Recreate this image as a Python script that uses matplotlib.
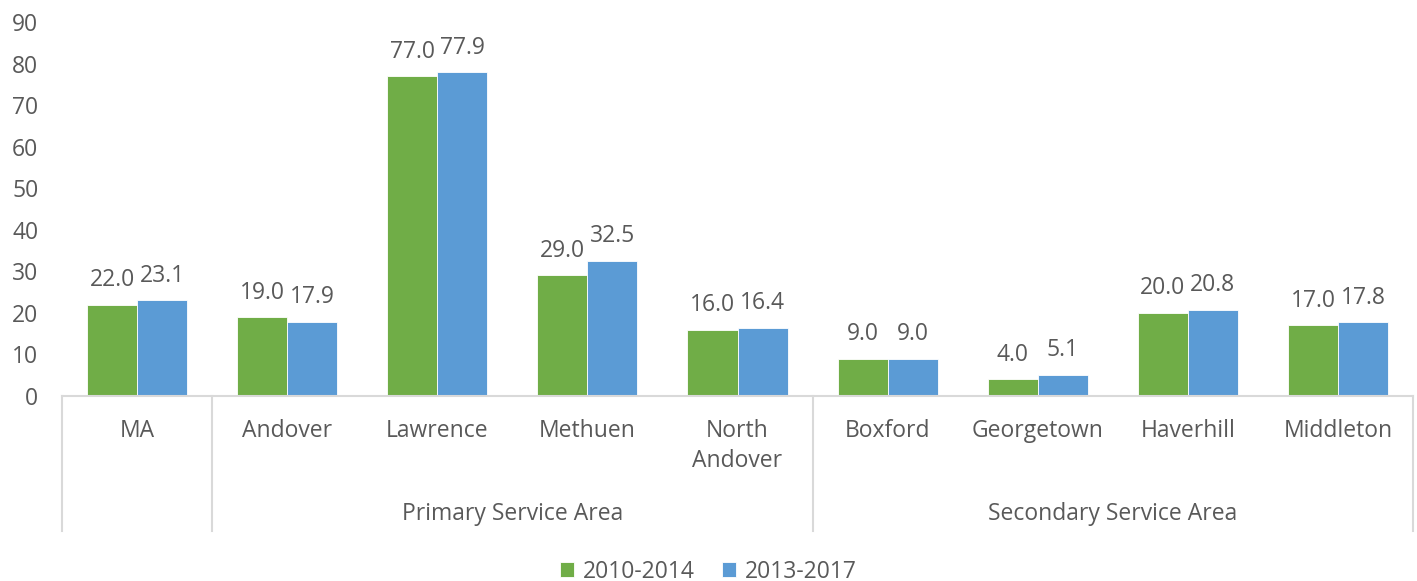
import matplotlib.pyplot as plt
import numpy as np

# chart data
places = ['MA', 'Andover', 'Lawrence', 'Methuen', 'North\nAndover',
          'Boxford', 'Georgetown', 'Haverhill', 'Middleton']
rate_2010_2014 = [22.0, 19.0, 77.0, 29.0, 16.0, 9.0, 4.0, 20.0, 17.0]
rate_2013_2017 = [23.1, 17.9, 77.9, 32.5, 16.4, 9.0, 5.1, 20.8, 17.8]
groups = ['Primary Service Area', 'Secondary Service Area']
group_spans = [(1, 4), (5, 8)]
series_names = ['2010-2014', '2013-2017']

plt.rcParams['font.family'] = ['Open Sans', 'DejaVu Sans']
txt_color = '#595959'
line_color = '#D9D9D9'
green = '#70AD47'
blue = '#5B9BD5'
fs = 16.5

fig = plt.figure(figsize=(14.17, 5.81), dpi=100)
ax = fig.add_axes([62 / 1417, 185 / 581, 1351 / 1417, 374 / 581])

x = np.arange(len(places))
w = 1 / 3
b1 = ax.bar(x - w / 2, rate_2010_2014, w, color=green, edgecolor='white',
            linewidth=0.6, label=series_names[0])
b2 = ax.bar(x + w / 2, rate_2013_2017, w, color=blue, edgecolor='white',
            linewidth=0.6, label=series_names[1])

for bars, vals in [(b1, rate_2010_2014), (b2, rate_2013_2017)]:
    for bar, v in zip(bars, vals):
        ax.annotate(f'{v:.1f}', (bar.get_x() + bar.get_width() / 2, v),
                    xytext=(0, 9), textcoords='offset points',
                    ha='center', va='bottom', fontsize=fs, color=txt_color)

ax.set_xlim(-0.5, len(places) - 0.5)
ax.set_ylim(0, 90)
ax.set_yticks(range(0, 91, 10))
ax.tick_params(axis='y', length=0, labelsize=fs, labelcolor=txt_color, pad=17)
ax.set_xticks([])
for s in ['top', 'right', 'left']:
    ax.spines[s].set_visible(False)
ax.spines['bottom'].set_color(line_color)
ax.spines['bottom'].set_linewidth(1.5)

# category labels and separators below axis
tr = ax.get_xaxis_transform()
for xi, name in zip(x, places):
    ax.text(xi, -0.062, name, transform=tr, ha='center', va='top',
            fontsize=fs, color=txt_color, linespacing=1.3)
for sep in [-0.5, 0.5, 4.5, 8.5]:
    ax.plot([sep, sep], [0, -0.36], transform=tr, color=line_color,
            lw=1.5, clip_on=False)
for g, (a, b) in zip(groups, group_spans):
    ax.text((a + b) / 2, -0.316, g, transform=tr, ha='center', va='center',
            fontsize=fs, color=txt_color)

fig.legend(handles=[b1, b2], loc='lower center', bbox_to_anchor=(0.5, -0.04),
           ncol=2, frameon=False, fontsize=fs, labelcolor=txt_color,
           handlelength=0.6, handleheight=0.6, columnspacing=1.2,
           handletextpad=0.4)

fig.savefig('out.png', dpi=100)
